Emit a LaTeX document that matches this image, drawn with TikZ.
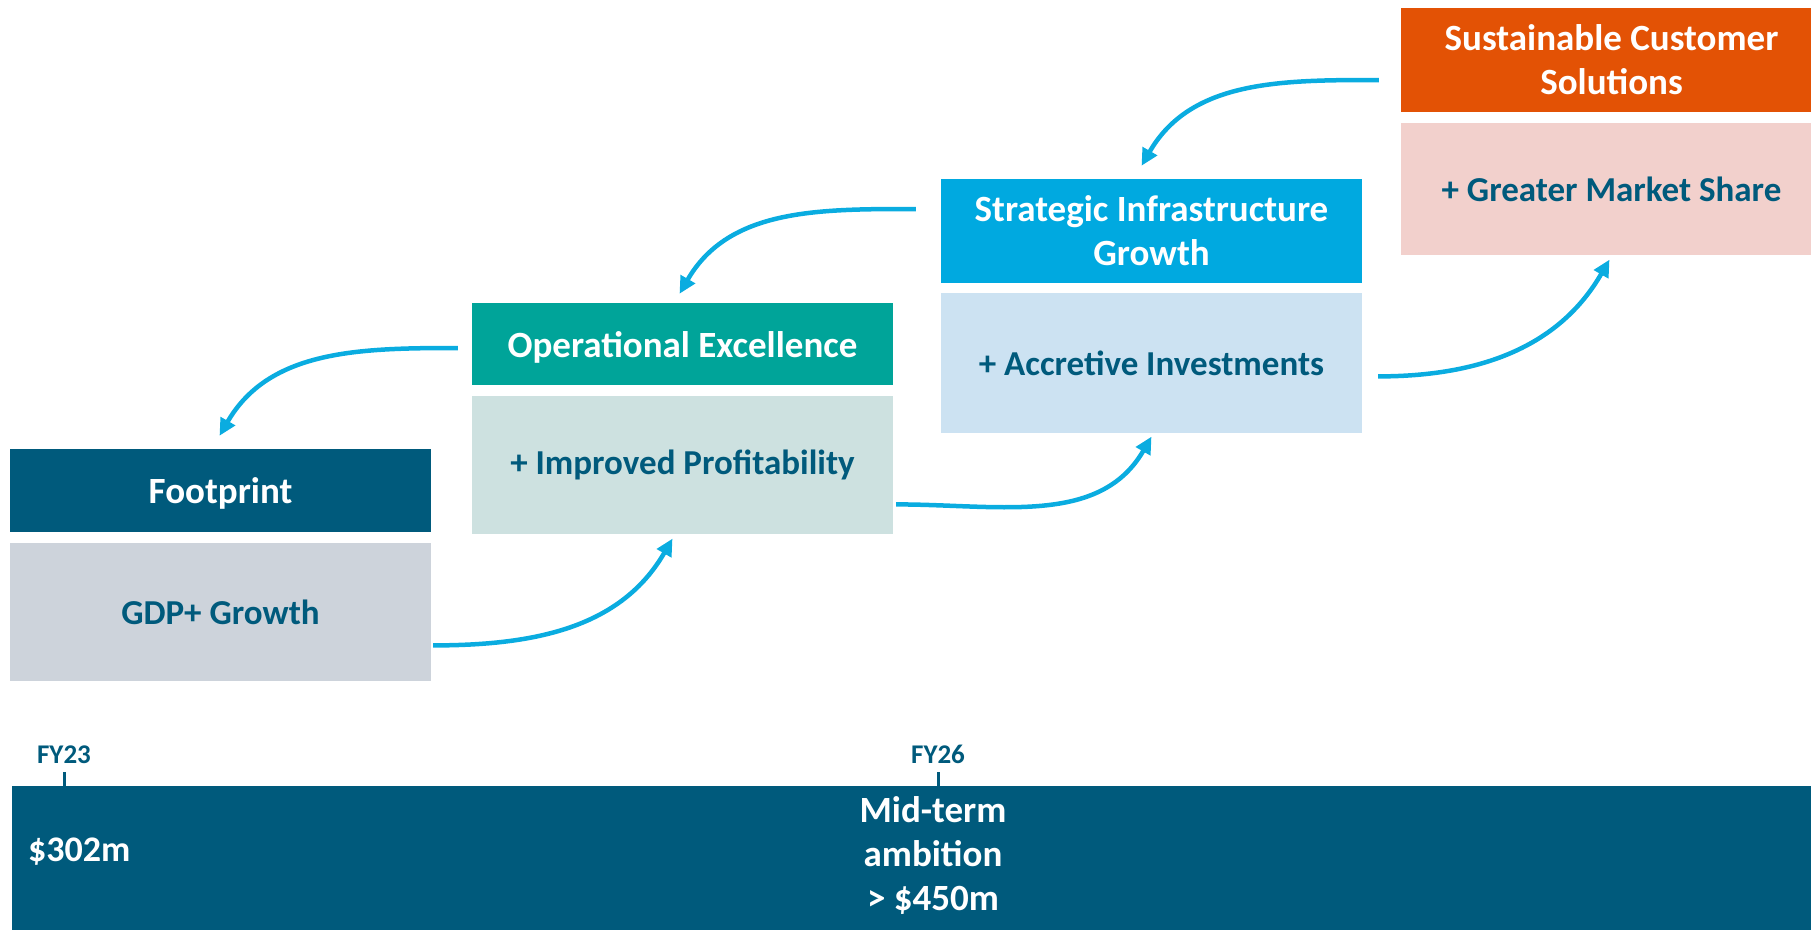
\documentclass[tikz,border=0pt]{standalone}
\usepackage{fontspec}
\setmainfont{Carlito}
\usetikzlibrary{positioning,arrows.meta}

\definecolor{navy}{HTML}{005A7C}
\definecolor{fpgrey}{HTML}{CDD3DB}
\definecolor{opteal}{HTML}{00A499}
\definecolor{oplight}{HTML}{CDE1E0}
\definecolor{siblue}{HTML}{00A9E0}
\definecolor{silight}{HTML}{CCE2F2}
\definecolor{scorange}{HTML}{E35205}
\definecolor{scpink}{HTML}{F2D0CC}
\definecolor{flowblue}{HTML}{0AACE0}

\begin{document}
\begin{tikzpicture}[
  x=1pt,y=1pt,
  every node/.style={inner sep=0pt,align=center,font=\bfseries},
  head/.style={minimum width=421pt,text=white,font=\bfseries\fontsize{37}{44}\selectfont},
  body/.style={minimum width=421pt,minimum height=138pt,text=navy,font=\bfseries\fontsize{35}{42}\selectfont},
  flow/.style={draw=flowblue,line width=4.5pt,-{Triangle[length=17pt,width=16pt]}},
  year/.style={text=navy,font=\bfseries\fontsize{27}{32}\selectfont},
  tick/.style={draw=navy,line width=3pt},
  ]
  \useasboundingbox (0,0) rectangle (1811,-929);
  \clip (0,0) rectangle (1811,-929);
  \node[head,fill=navy,minimum height=83pt,text depth=-11pt] (fpHead) at (220.5,-490.5) {Footprint};
  \node[body,fill=fpgrey,below=11pt of fpHead] (fpBody) {GDP+ Growth};
  \node[head,fill=opteal,minimum height=82pt,text depth=-6pt] (opHead) at (682.5,-344) {Operational Excellence};
  \node[body,fill=oplight,below=11pt of opHead] (opBody) {+ Improved Profitability};
  \node[head,fill=siblue,minimum height=104pt,text depth=-11pt] (siHead) at (1151.5,-231) {Strategic Infrastructure\\Growth};
  \node[body,fill=silight,minimum height=140pt,below=10pt of siHead] (siBody) {+ Accretive Investments};
  \node[head,fill=scorange,minimum height=104pt,text depth=-11pt] (scHead) at (1611.5,-60) {Sustainable Customer\\Solutions};
  \node[body,fill=scpink,minimum height=132pt,below=11pt of scHead] (scBody) {+ Greater Market Share};

  \draw[flow] ([xshift=2pt,yshift=-33pt]fpBody.east) to[out=0,in=-120] ([xshift=-10pt,yshift=-4pt]opBody.south);
  \draw[flow] ([xshift=3pt,yshift=-39pt]opBody.east) to[out=0,in=-120] ([yshift=-3pt]siBody.south);
  \draw[flow] ([xshift=16pt,yshift=-13pt]siBody.east) to[out=0,in=-120] ([xshift=-2pt,yshift=-4pt]scBody.south);
  \draw[flow] ([xshift=-14pt,yshift=-4pt]opHead.west) to[out=180,in=60] ([xshift=-1pt,yshift=13pt]fpHead.north);
  \draw[flow] ([xshift=-25pt,yshift=22pt]siHead.west) to[out=180,in=60] ([xshift=-3pt,yshift=9pt]opHead.north);
  \draw[flow] ([xshift=-22pt,yshift=-20pt]scHead.west) to[out=180,in=60] ([xshift=-10pt,yshift=13pt]siHead.north);

  \node[fill=navy,minimum width=1820pt,minimum height=150pt,anchor=north west] (bar) at (12,-786) {};
  \node[year,anchor=south] (fy23) at (64,-764) {FY23};
  \node[year,anchor=south] (fy26) at (938,-764) {FY26};
  \draw[tick] ([yshift=-8pt]fy23.south) -- (fy23.south |- bar.north);
  \draw[tick] ([yshift=-8pt]fy26.south) -- (fy26.south |- bar.north);
  \node[text=white,font=\bfseries\fontsize{36}{43}\selectfont,anchor=west] (base) at (28,-852) {\$302m};
  \node[text=white,font=\bfseries\fontsize{37}{44}\selectfont] (ambition) at (933,-855) {Mid-term\\ambition\\> \$450m};
\end{tikzpicture}
\end{document}
